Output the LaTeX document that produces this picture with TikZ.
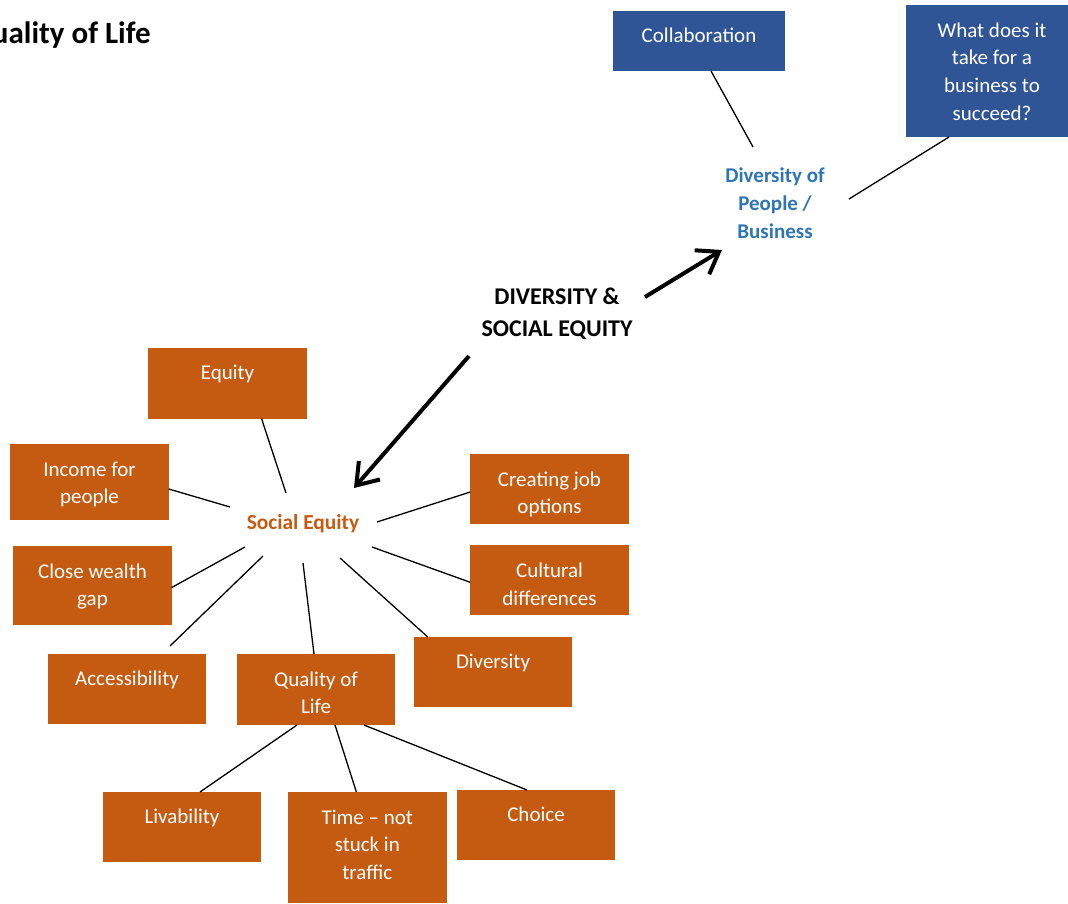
\documentclass[tikz,border=0pt]{standalone}
\usepackage{fontspec}
\setmainfont{Carlito}
\usetikzlibrary{arrows.meta,calc}
\definecolor{boxorange}{HTML}{C55A11}
\definecolor{boxblue}{HTML}{2F5597}
\definecolor{textblue}{HTML}{2E75B6}
\newcommand\bxfont{\fontsize{10.5}{13.8}\selectfont}
\tikzset{
  card/.style={minimum width=79.25pt, minimum height=35pt, inner sep=0pt, outer sep=0pt},
  ocard/.style={card, fill=boxorange},
  bcard/.style={card, fill=boxblue},
  cardtext/.style={anchor=north, yshift=-6pt, inner sep=0pt, text=white,
    align=center, font=\bxfont, execute at begin node=\strut},
  cardlines/.style={cardtext, yshift=-2.7pt},
  link/.style={line width=0.65pt},
  bigarrow/.style={line width=2pt, -{Straight Barb[length=10pt,width=14pt]}},
}
\begin{document}
\begin{tikzpicture}[x=0.5pt, y=-0.5pt]
\path[use as bounding box] (0,0) rectangle (1068,903);
\clip (0,0) rectangle (1068,903);

% heading
\node[anchor=base east, inner sep=0pt, font=\fontsize{15.5}{18}\selectfont\bfseries]
  (title) at (151,43.5) {Quality of Life};

% business branch
\node[bcard, minimum width=86pt, minimum height=30pt,
  label={[cardtext]north:Collaboration}] (collab) at (699,41) {};
\node[bcard, minimum width=86pt, minimum height=66pt,
  label={[cardlines]north:{What does it\\take for a\\business to\\succeed?}}] (what) at (992,71) {};
\node[inner sep=0pt, align=center, text=textblue,
  font=\fontsize{10.5}{14}\selectfont\bfseries] (dop) at (775,203) {Diversity of\\People /\\Business};

% central theme
\node[inner sep=0pt, align=center, font=\fontsize{12}{16}\selectfont\bfseries]
  (dse) at (557,314) {DIVERSITY \&\\SOCIAL EQUITY};

% social equity hub
\node[inner sep=0pt, text=boxorange, font=\fontsize{10.7}{14}\selectfont\bfseries]
  (se) at (303,524) {Social Equity};

\node[ocard, minimum height=35.5pt, label={[cardtext]north:Equity}] (eq) at (227.5,383) {};
\node[ocard, minimum height=38pt, label={[cardlines]north:{Income for\\people}}] (inc) at (89.5,482) {};
\node[ocard, minimum height=39.5pt, label={[cardlines]north:{Close wealth\\gap}}] (close) at (92.5,585.5) {};
\node[ocard, label={[cardtext]north:Accessibility}] (acc) at (127,689) {};
\node[ocard, minimum height=35.5pt, label={[cardlines]north:{Quality of\\Life}}] (qol) at (316,689.5) {};
\node[ocard, label={[cardtext]north:Diversity}] (dv) at (493,672) {};
\node[ocard, label={[cardlines]north:{Creating job\\options}}] (jobs) at (549.5,489) {};
\node[ocard, label={[cardlines]north:{Cultural\\differences}}] (cult) at (549.5,580.3) {};
\node[ocard, label={[cardtext]north:Livability}] (liv) at (182,827) {};
\node[ocard, minimum height=55.5pt, label={[cardlines]north:{Time – not\\stuck in\\traffic}}] (time) at (367.3,847.3) {};
\node[ocard, label={[cardtext]north:Choice}] (choice) at (536,825) {};

% connectors
\draw[link] ($(collab.south)+(12,0)$) -- ($(dop)+(-22,-56)$);
\draw[link] ($(what.south)+(-43,0)$) -- ($(dop)+(74,-4)$);

\draw[link] ($(eq.south)+(34,0)$) -- ($(se)+(-17,-31)$);
\draw[link] ($(inc.east)+(0,7)$) -- ($(se)+(-73,-17)$);
\draw[link] ($(close.east)+(0,2)$) -- ($(se)+(-58,23)$);
\draw[link] ($(acc.north)+(43,-8)$) -- ($(se)+(-40,32)$);
\draw[link] ($(qol.north)+(-2,0)$) -- ($(se)+(0,39)$);
\draw[link] ($(dv.north west)+(14,0)$) -- ($(se)+(37,34)$);
\draw[link] ($(jobs.west)+(0,3)$) -- ($(se)+(74,-2)$);
\draw[link] ($(cult.west)+(0,2)$) -- ($(se)+(69,23)$);

\draw[link] ($(liv.north)+(18,0)$) -- ($(qol.south)+(-19,0)$);
\draw[link] ($(time.north)+(-11,0)$) -- ($(qol.south)+(19,0)$);
\draw[link] ($(choice.north)+(-9,0)$) -- ($(qol.south)+(48,0)$);

% theme arrows
\draw[bigarrow] ($(dse)+(88,-17)$) -- ($(dop)+(-53,47)$);
\draw[bigarrow] ($(dse)+(-88,42)$) -- ($(se)+(51,-36)$);
\end{tikzpicture}
\end{document}
